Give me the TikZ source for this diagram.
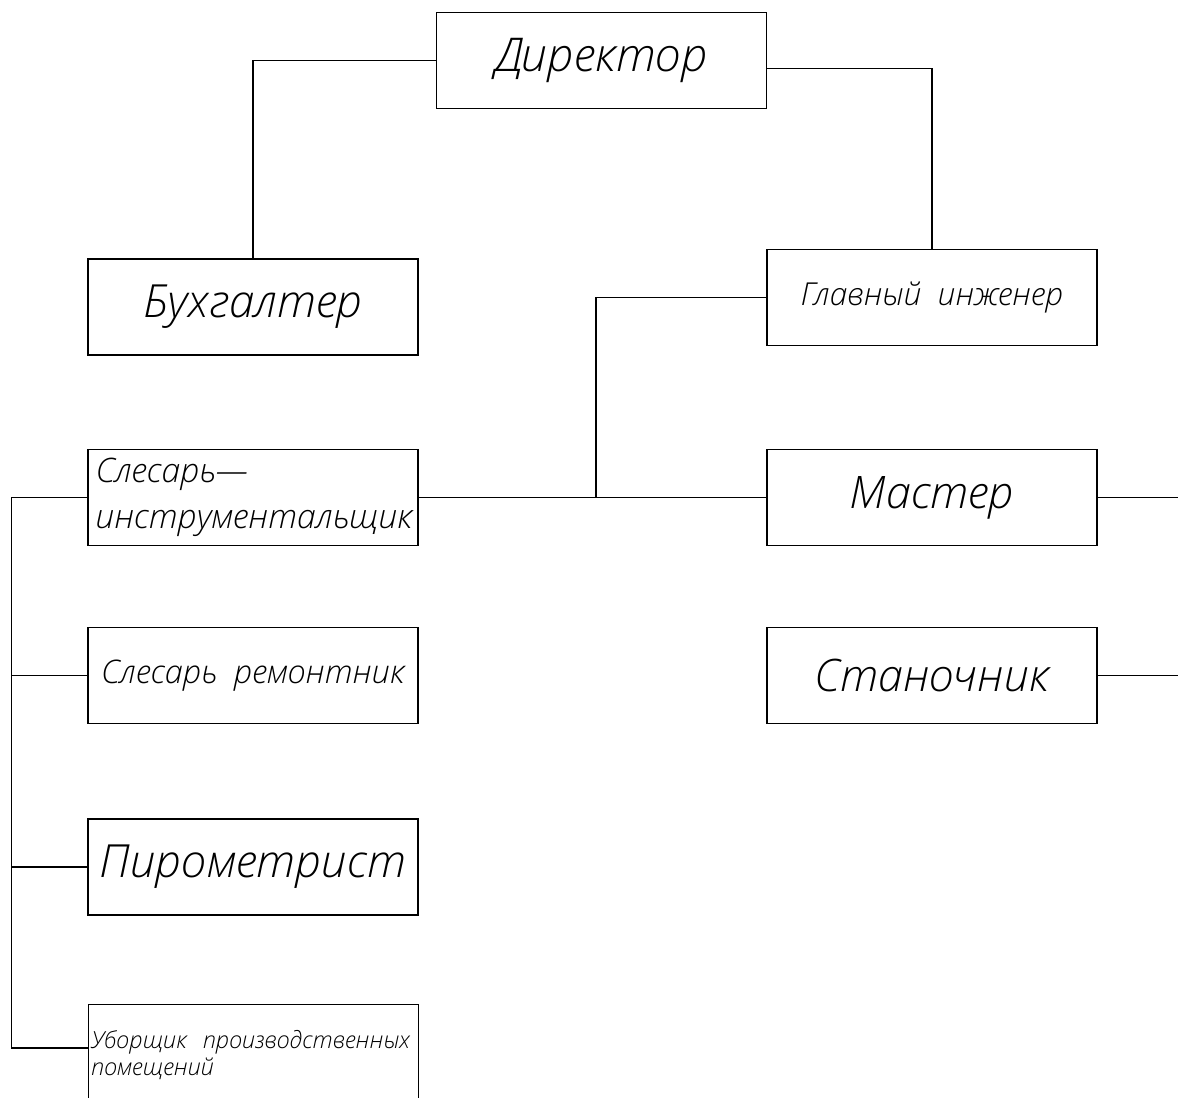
\documentclass[tikz,border=0pt]{standalone}
\usepackage{fontspec}
\newfontfamily\gost{Open Sans Light Italic}
\usepackage{tikz}
\usetikzlibrary{
    automata
}

\begin{document}
\begin{tikzpicture}[line width=0.7pt]
    \tikzstyle{every state}=[shape=rectangle, minimum width=6.6cm, minimum height=1.92cm, inner sep=0.15cm, font=\gost]
	\useasboundingbox (0, 0) rectangle (23.56, -21.94);
	\clip (0, 0) rectangle (23.56, -21.94);
	\node[state, font=\gost\fontsize{26.5}{30}\selectfont] (dir) at (12.03, -1.21) {Директор};
	\node[state, font=\gost\fontsize{26}{30}\selectfont] (buh) at (5.06, -6.14) {Бухгалтер};
	\node[state, font=\gost\fontsize{18}{20}\selectfont] (glav) at (18.64, -5.95) {Главный\ \ инженер};

	\node[state, align=left, text width=6.3cm, font=\gost\fontsize{19.2}{26}\selectfont] (slin) at (5.06, -9.95) {Слесарь—\\инструментальщик};
	\node[state, font=\gost\fontsize{25.5}{30}\selectfont] (master) at (18.64, -9.95) {Мастер};

	\node[state, font=\gost\fontsize{18.5}{21}\selectfont] (slrem) at (5.06, -13.51) {Слесарь\ \ ремонтник};
	\node[state, font=\gost\fontsize{25.5}{30}\selectfont] (stan) at (18.64, -13.51) {Станочник};

	\node[state, font=\gost\fontsize{26}{30}\selectfont] (pirom) at (5.06, -17.34) {Пирометрист};

	\node[state, anchor=north west, align=left, text width=6.5cm, minimum height=3cm, inner xsep=0.05cm, inner ysep=0.3cm, text depth=1.6cm, font=\gost\fontsize{13.4}{15.5}\selectfont] (ubor) at (1.76, -20.08) {Уборщик\ \ производственных\\помещений};

	\coordinate (jn) at (11.92, -9.95);
	\coordinate (mright) at (24, -9.95);
	\coordinate (sright) at (24, -13.51);

	\draw (dir.west) -| (buh.north);
	\draw ([yshift=-0.16cm]dir.east) -| (glav.north);
	\draw (glav.west) -| (jn);
	\draw (slin.east) -- (master.west);
	\draw (master.east) -- (mright);
	\draw (stan.east) -- (sright);

	\draw (slin.west) -- +(-1.52, 0) |- ([yshift=-0.88cm]ubor.north west);
	\draw (slrem.west) -- +(-1.52, 0);
	\draw (pirom.west) -- +(-1.52, 0);
\end{tikzpicture}
\end{document}
